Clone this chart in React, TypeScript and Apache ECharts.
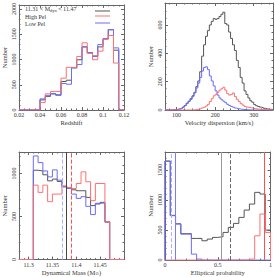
import React, { useEffect, useRef } from 'react';
import * as echarts from 'echarts';

const FONT = '"Liberation Serif", "DejaVu Serif", serif';
const AX = '#666666';
const C_ALL = '#555555';
const C_HIGH = '#ff7070';
const C_LOW = '#6b6bff';

// ---------- Panel 1: redshift ----------
const zStart = 0.02;
const zBin = 0.005;
const zAll = [0, 0, 0, 0, 200, 270, 320, 300, 565, 590, 835, 995, 1250, 1135, 1070, 1250, 1410, 1590, 1185, 0];
const zHigh = [0, 0, 0, 0, 150, 320, 365, 365, 630, 845, 835, 1060, 1330, 1120, 995, 1165, 1400, 1475, 930, 0];
const zLow = [0, 0, 0, 0, 220, 290, 320, 290, 525, 510, 835, 900, 1250, 1135, 1060, 1295, 1410, 1590, 1230, 0];
const zTicks = [0.02, 0.04, 0.06, 0.08, 0.1, 0.12];
const zCountTicks = [0, 500, 1000, 1500, 2000];

// ---------- Panel 2: velocity dispersion ----------
const vStart = 70;
const vBin = 5;
const vAll = [0, 0, 0, 0, 2, 3, 5, 8, 12, 20, 32, 48, 62, 80, 100, 125, 165, 205, 270, 380, 460, 520, 560, 600, 625, 645, 640, 645, 660, 675, 690, 610, 600, 550, 505, 460, 420, 350, 300, 230, 190, 135, 110, 85, 65, 55, 38, 30, 25, 20, 17, 12, 8, 6, 5, 4];
const vHigh = [0, 0, 0, 0, 0, 0, 0, 0, 0, 0, 0, 0, 0, 0, 0, 2, 4, 6, 10, 15, 20, 28, 40, 60, 80, 100, 110, 125, 140, 150, 160, 140, 115, 105, 110, 120, 95, 75, 60, 45, 35, 25, 20, 18, 15, 12, 10, 8, 6, 5, 4, 3, 2, 2, 1, 1];
const vLow = [0, 0, 0, 0, 1, 2, 5, 8, 12, 20, 30, 45, 60, 75, 95, 120, 155, 190, 230, 275, 300, 305, 285, 240, 205, 170, 135, 105, 85, 72, 62, 52, 40, 32, 25, 20, 14, 10, 8, 5, 4, 3, 2, 1, 0, 0, 0, 0, 0, 0, 0, 0, 0, 0, 0, 0];
const vTicks = [100, 200, 300];
const vCountTicks = [0, 200, 400, 600];

// ---------- Panel 3: dynamical mass ----------
const mStart = 11.31;
const mBin = 0.01;
const mAll = [1038, 1030, 985, 915, 935, 908, 846, 831, 811, 800, 800, 723, 627, 646, 665, 435];
const mHigh = [865, 781, 865, 673, 761, 761, 857, 838, 827, 884, 1019, 904, 685, 884, 884, 440];
const mLow = [1204, 1127, 1030, 961, 1042, 923, 846, 827, 761, 711, 731, 619, 523, 654, 657, 442];
const mTicks = [11.3, 11.35, 11.4, 11.45];
const mCountTicks = [0, 500, 1000];
const mMarkers = [11.373, 11.3785, 11.3805, 11.384, 11.3925];

// ---------- Panel 4: elliptical probability ----------
const pStart = 0;
const pBin = 0.05;
const pAll = [1650, 745, 605, 440, 440, 361, 361, 322, 350, 378, 389, 461, 544, 611, 711, 833, 933, 1128, 1100, 500];
const pHigh = [0, 0, 0, 0, 0, 0, 0, 0, 0, 0, 0, 0, 0, 0, 0, 0, 17, 405, 767, 461];
const pLow = [1644, 739, 600, 433, 433, 100, 17, 0, 0, 0, 0, 0, 0, 0, 0, 0, 0, 0, 0, 0];
const pTicks = [0, 0.5, 1];
const pCountTicks = [0, 500, 1000, 1500];
const pMarkers = [0.062, 0.095, 0.53, 0.62, 0.945];

function steps(a: number, b: number, s: number) {
  const out: number[] = [];
  const n = Math.round((b - a) / s);
  for (let i = 0; i <= n; i++) out.push(+(a + i * s).toFixed(6));
  return out;
}

function hist(start: number, w: number, vals: number[], axMin: number, axMax: number) {
  const pts: number[][] = [[axMin, 0], [start, 0]];
  vals.forEach((v, i) => pts.push([+(start + i * w).toFixed(6), v]));
  pts.push([+(start + vals.length * w).toFixed(6), 0]);
  pts.push([axMax, 0]);
  return pts;
}

const labelStyle = { fontSize: 6, fontFamily: FONT, color: '#333' };
const nameStyle = { fontSize: 6.5, fontFamily: FONT, color: '#333' };

function axisSet(
  dim: 'x' | 'y', grid: number, min: number, max: number,
  major: number[], minor: number[], name: any,
) {
  const mainPos = dim === 'x' ? 'bottom' : 'left';
  const oppPos = dim === 'x' ? 'top' : 'right';
  const mk = (pos: string, ticks: number[], len: number, showLine: boolean, withLabel: boolean) => {
    const ax: any = {
      type: 'value', gridIndex: grid, position: pos, min, max,
      axisLine: { show: showLine, onZero: false, lineStyle: { color: AX, width: 1 } },
      axisTick: { show: true, inside: true, length: len, customValues: ticks, lineStyle: { color: AX, width: 1 } },
      axisLabel: { show: false },
      splitLine: { show: false },
      minorTick: { show: false },
    };
    if (withLabel) {
      ax.axisLabel = {
        show: true, customValues: ticks, ...labelStyle,
        margin: dim === 'x' ? 2 : 2,
        rotate: dim === 'y' ? 90 : 0,
        formatter: (v: number) => String(v),
      };
      ax.name = name.text;
      ax.nameLocation = 'middle';
      ax.nameGap = name.gap;
      ax.nameTextStyle = { ...nameStyle, rich: name.rich };
    }
    return ax;
  };
  return [
    mk(mainPos, major, 3, true, true),
    mk(mainPos, minor, 1.5, false, false),
    mk(oppPos, major, 3, true, false),
    mk(oppPos, minor, 1.5, false, false),
  ];
}

function histSeries(g: number, data: number[][], color: string, extra: any = {}) {
  return {
    type: 'line', xAxisIndex: g * 4, yAxisIndex: g * 4, data, step: 'end',
    showSymbol: false, symbol: 'none', silent: true,
    lineStyle: { color, width: 1 }, itemStyle: { color },
    ...extra,
  };
}

function markers(values: number[], styles: { color: string; type: string }[]) {
  return {
    markLine: {
      silent: true, symbol: ['none', 'none'], label: { show: false }, animation: false,
      data: values.map((v, i) => ({ xAxis: v, lineStyle: { color: styles[i].color, type: styles[i].type, width: 1 } })),
    },
  };
}

const subRich = { s: { fontSize: 4.5, fontFamily: FONT, color: '#333', verticalAlign: 'bottom', padding: [3, 0, 0, 0] } };

export default function App() {
  const ref = useRef<HTMLDivElement>(null);
  useEffect(() => {
    if (!ref.current) return;
    const chart = echarts.init(ref.current, undefined, { renderer: 'svg' });

    const grids = [
      { left: 16, top: 0.5, width: 108, height: 109.5 },
      { left: 165, top: 3, width: 108, height: 107 },
      { left: 16, top: 152, width: 108, height: 109 },
      { left: 165, top: 152, width: 108, height: 109 },
    ];
    const ny = { text: 'Number', gap: 11 };
    const xAxes = [
      ...axisSet('x', 0, 0.02, 0.12, zTicks, steps(0.02, 0.12, 0.005), { text: 'Redshift', gap: 9 }),
      ...axisSet('x', 1, 70, 350, vTicks, steps(80, 340, 20), { text: 'Velocity dispersion (km/s)', gap: 9 }),
      ...axisSet('x', 2, 11.28, 11.5, mTicks, steps(11.28, 11.5, 0.01), { text: 'Dynamical Mass (M{s|⊙})', gap: 7, rich: subRich }),
      ...axisSet('x', 3, 0, 1, pTicks, steps(0, 1, 0.1), { text: 'Elliptical probability', gap: 7 }),
    ];
    const yAxes = [
      ...axisSet('y', 0, 0, 2080, zCountTicks, steps(0, 2000, 100), ny),
      ...axisSet('y', 1, 0, 755, vCountTicks, steps(0, 750, 50), ny),
      ...axisSet('y', 2, 0, 1250, mCountTicks, steps(0, 1200, 100), ny),
      ...axisSet('y', 3, 0, 1800, pCountTicks, steps(0, 1800, 100), ny),
    ];

    const massStyles = [
      { color: '#aab0ff', type: 'dashed' },
      { color: '#6b6bff', type: 'dashed' },
      { color: '#3a3aa0', type: 'solid' },
      { color: '#444444', type: 'solid' },
      { color: '#ff5050', type: 'dashed' },
    ];
    const probStyles = [
      { color: '#aab0ff', type: 'dashed' },
      { color: '#7a7aff', type: 'solid' },
      { color: '#999999', type: 'solid' },
      { color: '#666666', type: 'dashed' },
      { color: '#ff5050', type: 'solid' },
    ];

    const series: any[] = [
      histSeries(0, hist(zStart, zBin, zAll, 0.02, 0.12), C_ALL),
      histSeries(0, hist(zStart, zBin, zLow, 0.02, 0.12), C_LOW),
      histSeries(0, hist(zStart, zBin, zHigh, 0.02, 0.12), C_HIGH),
      histSeries(1, hist(vStart, vBin, vAll, 70, 350), C_ALL),
      histSeries(1, hist(vStart, vBin, vLow, 70, 350), C_LOW),
      histSeries(1, hist(vStart, vBin, vHigh, 70, 350), C_HIGH),
      histSeries(2, hist(mStart, mBin, mAll, 11.28, 11.5), C_ALL),
      histSeries(2, hist(mStart, mBin, mLow, 11.28, 11.5), C_LOW),
      histSeries(2, hist(mStart, mBin, mHigh, 11.28, 11.5), C_HIGH, markers(mMarkers, massStyles)),
      histSeries(3, hist(pStart, pBin, pAll, 0, 1), C_ALL),
      histSeries(3, hist(pStart, pBin, pLow, 0, 1), C_LOW),
      histSeries(3, hist(pStart, pBin, pHigh, 0, 1), C_HIGH, markers(pMarkers, probStyles)),
    ];

    const legendText = (y: number, text: string) => ({
      type: 'text', x: 25, y,
      style: { text, fontSize: 6, fontFamily: FONT, fill: '#333', verticalAlign: 'middle', align: 'left', rich: subRich },
    });
    const legendLine = (y: number, color: string) => ({
      type: 'line', shape: { x1: 95, y1: y, x2: 110, y2: y }, style: { stroke: color, lineWidth: 1 },
    });

    chart.setOption({
      animation: false,
      backgroundColor: '#ffffff',
      grid: grids,
      xAxis: xAxes,
      yAxis: yAxes,
      series,
      graphic: [
        legendText(9, '11.31 < M{s|dyn} < 11.47'),
        legendText(16.5, 'High Pel'),
        legendText(24, 'Low Pel'),
        legendLine(11, C_ALL),
        legendLine(16, C_HIGH),
        legendLine(23, C_LOW),
      ],
    });
    return () => chart.dispose();
  }, []);
  return <div ref={ref} style={{ position: 'fixed', left: 0, top: 0, width: 275, height: 277 }} />;
}
